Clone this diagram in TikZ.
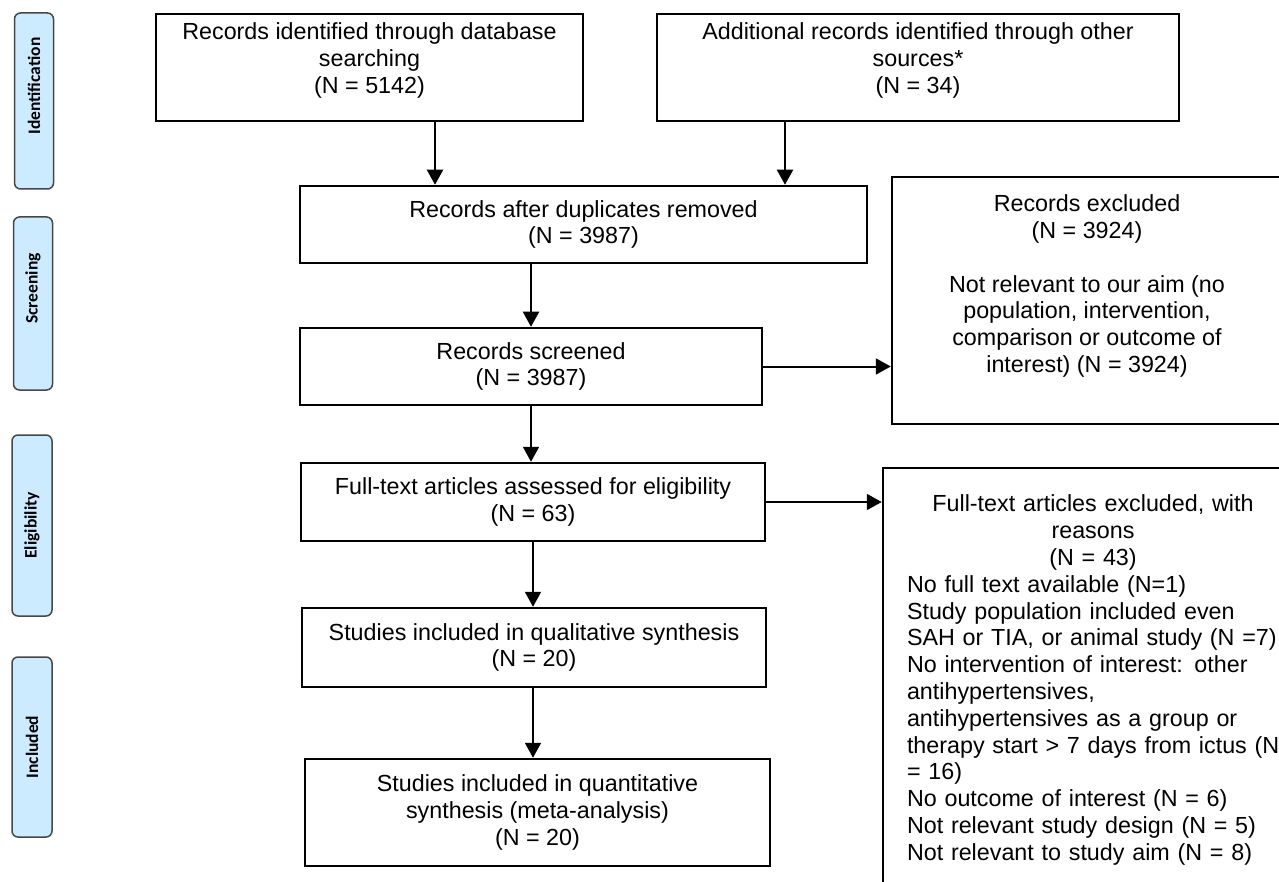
\documentclass[tikz,border=0pt]{standalone}
\usepackage{fontspec}
\setmainfont{Liberation Sans}
\newfontfamily\phasefont{Carlito}
\usetikzlibrary{arrows.meta}
\definecolor{phasefill}{RGB}{204,235,255}
\definecolor{phaseline}{RGB}{70,70,70}

\begin{document}
\begin{tikzpicture}[x=1pt,y=-1pt,
    box/.style={draw,line width=2.5pt,align=center,inner sep=0pt,font=\fontsize{23.3}{26.8}\selectfont},
    phase/.style={draw=phaseline,fill=phasefill,line width=1.5pt,rounded corners=6pt,rotate=90,minimum height=39pt,inner sep=0pt,font=\phasefont\bfseries\fontsize{17.5}{20}\selectfont},
    arr/.style={-{Triangle[length=15pt,width=16pt]},line width=2pt}]
    \useasboundingbox (0,0) rectangle (1279,882);
    \clip (0,0) rectangle (1279,882);
    \node[phase,minimum width=176pt] (ident) at (34,101) {\hspace*{30pt}Identification};
    \node[phase,minimum width=173pt] (screen) at (33,303.5) {\hspace*{30pt}Screening};
    \node[phase,minimum width=181pt,minimum height=40pt] (elig) at (32,525.5) {Eligibility};
    \node[phase,minimum width=180pt,minimum height=40pt] (incl) at (32,747) {Included};
    \node[box,minimum width=427pt,minimum height=107pt] (dbsearch) at (369.5,67.5) {Records identified through database\\searching\\(N = 5142)\\[-8pt]\mbox{}};
    \node[box,minimum width=522pt,minimum height=107pt] (othersrc) at (918,67.5) {Additional records identified through other\\sources*\\(N = 34)\\[-8pt]\mbox{}};
    \node[box,minimum width=567pt,minimum height=77pt] (dedup) at (583.5,224.5) {Records after duplicates removed\\(N = 3987)};
    \node[box,minimum width=462pt,minimum height=77pt] (screened) at (531,366.5) {Records screened\\(N = 3987)};
    \node[box,minimum width=390pt,minimum height=247pt] (recexcl) at (1087,300.5) {Records excluded\\(N = 3924)\\[26.8pt]Not relevant to our aim (no\\population, intervention,\\comparison or outcome of\\interest) (N = 3924)\\[7pt]\mbox{}};
    \node[box,minimum width=464pt,minimum height=78pt] (fulltext) at (533,502) {Full-text articles assessed for eligibility\\(N = 63)};
    \node[box,minimum width=464pt,minimum height=79pt] (qualit) at (534,647.5) {Studies included in qualitative synthesis\\(N = 20)};
    \node[box,minimum width=465pt,minimum height=107pt] (quantit) at (537.5,812.5) {Studies included in quantitative\\synthesis (meta-analysis)\\(N = 20)};
    \node[box,text width=372pt,inner xsep=24pt,minimum height=424pt,align=left] (ftexcl) at (1093,680) {{\centering Full-text articles excluded, with\\reasons\\(N = 43)\par}No full text available (N=1)\\Study population included even\\SAH or TIA, or animal study (N =7)\\No intervention of interest: other\\antihypertensives,\\antihypertensives as a group or\\\mbox{therapy start > 7 days from ictus (N}\\= 16)\\No outcome of interest (N = 6)\\Not relevant study design (N = 5)\\Not relevant to study aim (N = 8)};
    \coordinate (dbx) at (435,0);
    \coordinate (osx) at (785,0);
    \draw[arr] (dbsearch.south -| dbx) -- (dedup.north -| dbx);
    \draw[arr] (othersrc.south -| osx) -- (dedup.north -| osx);
    \draw[arr] (dedup.south -| screened.north) -- (screened.north);
    \draw[arr] (screened.east) -- (screened.east -| recexcl.west);
    \draw[arr] (screened.south) -- (fulltext.north -| screened.south);
    \draw[arr] (fulltext.east) -- (fulltext.east -| ftexcl.west);
    \draw[arr] (fulltext.south) -- (qualit.north -| fulltext.south);
    \draw[arr] (qualit.south -| fulltext.south) -- (quantit.north -| fulltext.south);
\end{tikzpicture}
\end{document}
